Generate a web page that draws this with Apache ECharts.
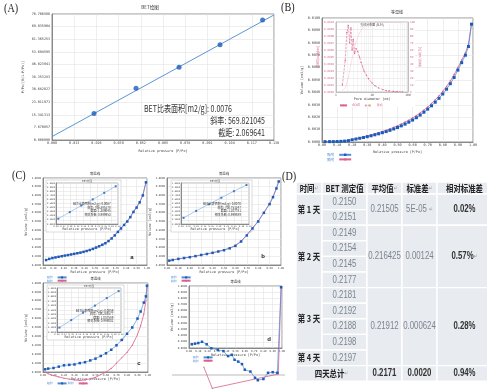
<!DOCTYPE html>
<html><head><meta charset="utf-8">
<script src="https://cdn.jsdelivr.net/npm/echarts@6.0.0/dist/echarts.min.js"></script>
<style>html,body{margin:0;padding:0;background:#fff;overflow:hidden}#c{width:487px;height:392px}</style>
</head><body><div id="c"></div>
<script>
// ================= DATA =================
// Panel A : BET plot
const aX = [0.0246, 0.0492, 0.0744, 0.0984, 0.1233];
const aY = [16.2, 31.5, 44.3, 58.0, 73.0];
const aFitX = [0, 0.13];
const aFitY = [2.069641, 76.147];
const aYLabels = ['0.000000','7.670657','15.341313','23.011971','30.682627','38.353283','46.023941','53.694595','61.365253','69.035904','76.706566'];
const aInfo = ['BET比表面积[m2/g]: 0.0076', '斜率: 569.821045', '截距: 2.069641'];

// Panel B : isotherm
const bX = [0.02,0.05,0.075,0.10,0.125,0.15,0.175,0.20,0.225,0.25,0.275,0.30,0.325,0.35,0.375,0.40,0.425,0.45,0.475,0.50,0.525,0.55,0.575,0.60,0.625,0.65,0.675,0.70,0.725,0.75,0.775,0.80,0.825,0.85,0.875,0.90,0.925,0.95,0.97,0.99];
const bAds = [0.00003,0.00003,0.00003,0.00004,0.00005,0.00007,0.00011,0.00018,0.00024,0.00030,0.00036,0.00043,0.00050,0.00058,0.00066,0.00075,0.00084,0.00094,0.00105,0.00117,0.00130,0.00144,0.00160,0.00177,0.00196,0.00217,0.00240,0.00265,0.00292,0.00321,0.00352,0.00387,0.00426,0.00470,0.00520,0.00580,0.00640,0.00700,0.00770,0.00950];
const bDes = [0.00003,0.00003,0.00004,0.00005,0.00006,0.00008,0.00013,0.00020,0.00027,0.00034,0.00041,0.00049,0.00057,0.00066,0.00075,0.00085,0.00095,0.00106,0.00118,0.00131,0.00145,0.00160,0.00176,0.00194,0.00213,0.00234,0.00257,0.00282,0.00310,0.00340,0.00372,0.00408,0.00448,0.00492,0.00543,0.00600,0.00660,0.00720,0.00790,0.00955];
// Panel B inset : pore size distribution
const poreD = [1.5,1.8,2.0,2.2,2.4,2.6,2.8,3.0,3.3,3.6,4.0,4.5,5.0,5.5,6,7,8,10,12,15,20,25,30,40,50,70];
const psd = [0.00010,0.00045,0.00085,0.00095,0.00070,0.00092,0.00060,0.00075,0.00055,0.00062,0.00058,0.00050,0.00042,0.00036,0.00030,0.00024,0.00019,0.00013,0.00009,0.00006,0.000035,0.00002,0.000015,0.000008,0.000005,0.000003];
const psdCum = [2,6,12,20,30,40,48,56,64,71,78,84,88,91,93,95.5,97,98.5,99,99.5,100,100,100,100,100,100];

// Panel C : four isotherms
const caX = [0.03,0.06,0.09,0.12,0.15,0.18,0.21,0.24,0.27,0.30,0.33,0.36,0.39,0.42,0.45,0.48,0.51,0.54,0.57,0.60,0.63,0.66,0.69,0.72,0.75,0.78,0.81,0.84,0.87,0.90,0.93,0.96,0.99];
const caAds = [0.057,0.070,0.080,0.087,0.094,0.101,0.108,0.114,0.121,0.128,0.135,0.142,0.151,0.161,0.172,0.185,0.200,0.215,0.232,0.250,0.275,0.305,0.340,0.380,0.420,0.460,0.500,0.550,0.610,0.660,0.720,0.800,0.950];
const caDes = [0.057,0.071,0.081,0.088,0.095,0.102,0.109,0.116,0.123,0.130,0.137,0.145,0.154,0.164,0.175,0.188,0.203,0.219,0.236,0.255,0.280,0.310,0.345,0.385,0.425,0.465,0.505,0.555,0.615,0.665,0.725,0.805,0.950];
const cbX = [0.02,0.05,0.10,0.15,0.20,0.25,0.30,0.35,0.40,0.45,0.50,0.55,0.60,0.65,0.70,0.75,0.80,0.85,0.90,0.93,0.96,0.98];
const cbAds = [0.050,0.058,0.070,0.080,0.090,0.102,0.115,0.127,0.140,0.155,0.170,0.192,0.220,0.270,0.340,0.420,0.500,0.600,0.700,0.780,0.880,0.960];
const cbDes = [0.050,0.059,0.071,0.081,0.091,0.103,0.116,0.128,0.142,0.157,0.173,0.196,0.225,0.275,0.345,0.425,0.505,0.605,0.705,0.785,0.885,0.960];
const ccX = [0.02,0.05,0.10,0.15,0.20,0.25,0.30,0.35,0.40,0.45,0.50,0.55,0.60,0.65,0.70,0.75,0.80,0.85,0.90,0.93,0.96,0.98,0.99];
const ccAds = [0.030,0.038,0.045,0.060,0.075,0.080,0.085,0.100,0.110,0.130,0.150,0.180,0.210,0.250,0.300,0.360,0.430,0.500,0.600,0.680,0.780,0.850,0.970];
const ccDes = [0.000,-0.020,-0.040,-0.055,-0.070,-0.080,-0.090,-0.095,-0.090,-0.075,-0.060,-0.030,0.000,0.040,0.100,0.160,0.220,0.300,0.420,0.520,0.650,0.800,0.950];
const cdX = [0.03,0.065,0.10,0.14,0.19,0.24,0.31,0.37,0.42,0.46,0.49,0.53,0.57,0.60,0.66,0.71,0.74,0.80,0.85,0.90,0.95,0.99];
const cdAds = [0.06,0.07,0.08,0.10,0.06,-0.005,-0.03,-0.05,-0.13,-0.11,-0.19,-0.22,-0.26,-0.35,-0.38,-0.48,-0.52,-0.50,-0.40,-0.39,-0.40,0.98];
const cdDesX = [0.16,0.25,0.96,0.99];
const cdDes = [-0.31,-0.65,-0.42,0.97];
// Panel C insets : BET linear fits
const cInsX = [0.05,0.10,0.15,0.20,0.25,0.30];
const caIns = [0.13,0.29,0.45,0.60,0.76,0.92];
const cbIns = [0.15,0.32,0.48,0.64,0.80,0.95];
const ccIns = [0.10,0.27,0.44,0.60,0.77,0.93];
const caInfo = ['BET比表面积[m2/g]: 0.0067','斜率: 706.385178','截距: 1.389045','相关系数: 0.999953'];
const cbInfo = ['BET比表面积[m2/g]: 0.0070','斜率: 700.751247','截距: 1.207781','相关系数: 0.999889'];
const ccInfo = ['BET比表面积[m2/g]: 0.0059','斜率: 738.208577','截距: 1.057589','相关系数: 0.998002'];

// Panel D : table
const tHeader = ['时间','BET 测定值','平均值','标准差','相对标准差'];
const tHeaderMark = [true, false, true, true, false];
const tDays = ['第 1 天','第 2 天','第 3 天','第 4 天'];
const tDaySpan = [2,4,4,1];
const tBet = ['0.2150','0.2151','0.2149','0.2154','0.2145','0.2177','0.2181','0.2192','0.2188','0.2198','0.2197'];
const tMean = ['0.21505','0.216425','0.21912'];
const tStd = ['5E-05','0.00124','0.000624'];
const tRsd = ['0.02%','0.57%','0.28%'];
const tGroupSpan = [2,4,5];
const tTotalLabel = '四天总计';
const tTotal = ['0.2171','0.0020','0.94%'];

// ================= STYLE / LAYOUT =================
const CJK = '"Noto Sans CJK SC", sans-serif';
const MONO = '"DejaVu Sans Mono", monospace';
const SANS = '"Liberation Sans", sans-serif';
const BLUE_L = '#4f8ed8', BLUE_M = '#1c5cb8', PINK = '#d8618f';
const zip = (xs, ys) => xs.map((x, i) => [x, ys[i]]);

const grids = [], xAxes = [], yAxes = [], series = [], graphics = [], legends = [];
function addGrid(g) {
  grids.push(Object.assign({show: true, backgroundColor: 'transparent', borderColor: '#666', borderWidth: 0.7, outerBoundsMode: 'none', containLabel: false}, g));
  return grids.length - 1;
}
function axis(gi, o, extraLabel) {
  return Object.assign({
    gridIndex: gi, type: 'value',
    axisLine: {show: true, onZero: false, lineStyle: {color: '#666', width: 0.7}},
    axisTick: {show: false},
    axisLabel: Object.assign({fontSize: 3.4, color: '#444', margin: 2, fontFamily: MONO, hideOverlap: false}, extraLabel || {}),
    splitLine: {show: true, lineStyle: {color: '#e2e2e2', width: 0.6}},
    nameLocation: 'middle',
    nameTextStyle: {fontSize: 3.4, color: '#444', fontFamily: MONO}
  }, o);
}
function T(text, x, y, o) {
  o = o || {};
  const st = {text: text, x: 0, y: 0, align: o.align || 'left', verticalAlign: o.va || 'middle',
      fontSize: o.size || 9, fontFamily: o.family || CJK, fontWeight: o.weight || 'normal', fill: o.color || '#222'};
  if (o.rich) st.rich = o.rich;
  return {type: 'text', x: x, y: y, scaleX: o.sx || 1, z: o.z || 50, style: st};
}
function R(x, y, w, h, o) {
  o = o || {};
  return {type: 'rect', z: o.z || 1, shape: {x: x, y: y, width: w, height: h},
    style: {fill: o.fill || '#fff', stroke: o.stroke || null, lineWidth: o.lw || 0}};
}

// ---------- Panel A ----------
{
  const g = addGrid({left: 52, top: 14, width: 222, height: 126});
  xAxes.push(axis(g, {min: 0, max: 0.13, interval: 0.013, name: 'Relative pressure [P/Po]', nameGap: 10}, {formatter: v => v.toFixed(3)}));
  yAxes.push(axis(g, {min: 0, max: 76.706566, interval: 7.6706566, name: 'P/Po/[V(1-P/Po)]', nameGap: 27}, {formatter: v => aYLabels[Math.round(v / 7.6706566)]}));
  const xi = xAxes.length - 1, yi = yAxes.length - 1;
  series.push({type: 'line', xAxisIndex: xi, yAxisIndex: yi, data: zip(aFitX, aFitY), symbol: 'none', lineStyle: {color: '#5d95d6', width: 1}, z: 2, silent: true});
  series.push({type: 'scatter', xAxisIndex: xi, yAxisIndex: yi, data: zip(aX, aY), symbol: 'circle', symbolSize: 5, itemStyle: {color: BLUE_M}, z: 3});
  graphics.push(T('BET绘图', 150, 7, {size: 4.5, align: 'center', color: '#333'}));
  graphics.push(T(aInfo[0], 144, 108, {size: 9.5, sx: 0.74, color: '#333', family: CJK}));
  graphics.push(T(aInfo[1], 265, 120, {size: 9.5, sx: 0.74, align: 'right', color: '#333'}));
  graphics.push(T(aInfo[2], 265, 132, {size: 9.5, sx: 0.74, align: 'right', color: '#333'}));
}

// ---------- Panel B ----------
{
  const g = addGrid({left: 322, top: 18, width: 151, height: 124});
  xAxes.push(axis(g, {min: 0, max: 1, interval: 0.1, name: 'Relative pressure [P/Po]', nameGap: 9}, {formatter: v => v.toFixed(2)}));
  yAxes.push(axis(g, {min: 0, max: 0.01, interval: 0.001, name: 'Volume [cm3/g]', nameGap: 16}, {formatter: v => v.toFixed(4)}));
  const xi = xAxes.length - 1, yi = yAxes.length - 1;
  series.push({name: '吸附', type: 'line', xAxisIndex: xi, yAxisIndex: yi, data: zip(bX, bAds), symbol: 'rect', symbolSize: 3, lineStyle: {color: BLUE_L, width: 0.8}, itemStyle: {color: BLUE_M}, z: 3});
  series.push({name: '脱附', type: 'line', xAxisIndex: xi, yAxisIndex: yi, data: zip(bX, bDes), symbol: 'circle', symbolSize: 1.6, lineStyle: {color: PINK, width: 0.8}, itemStyle: {color: PINK}, z: 2});
  graphics.push(T('等温线', 397, 12, {size: 4, align: 'center', color: '#333'}));
  // inset background
  graphics.push(R(323, 19, 92, 88, {z: 1}));
  const gi = addGrid({left: 336, top: 22, width: 72, height: 70, z: 3, borderColor: '#aaa'});
  xAxes.push(axis(gi, {type: 'log', min: 1, max: 100, logBase: 10, z: 3, name: 'Pore diameter [nm]', nameGap: 5,
    axisLine: {show: true, onZero: false, lineStyle: {color: '#aaa', width: 0.6}},
    minorSplitLine: {show: true, lineStyle: {color: '#e8e8e8', width: 0.5}}, minorTick: {show: false, splitNumber: 9}}, {color: '#555', fontSize: 3}));
  yAxes.push(axis(gi, {min: 0, max: 0.001, interval: 0.0001, z: 3, name: 'dV/dD [cm3/g/nm]', nameGap: 12, nameTextStyle: {fontSize: 2.6, color: PINK},
    axisLine: {show: true, onZero: false, lineStyle: {color: '#aaa', width: 0.6}}}, {formatter: v => v.toFixed(4), color: PINK, fontSize: 2.8}));
  yAxes.push(axis(gi, {min: 0, max: 100, interval: 10, position: 'right', z: 3, splitLine: {show: false}, name: '累积孔体积 [%]', nameGap: 9, nameTextStyle: {fontSize: 2.6, color: PINK},
    axisLine: {show: true, onZero: false, lineStyle: {color: '#aaa', width: 0.6}}}, {color: PINK, fontSize: 2.8}));
  const ixi = xAxes.length - 1;
  series.push({name: 'dV/dD', type: 'line', xAxisIndex: ixi, yAxisIndex: yAxes.length - 2, data: zip(poreD, psd), symbol: 'circle', symbolSize: 1.3, lineStyle: {color: PINK, width: 0.6, type: 'dashed'}, itemStyle: {color: PINK}, z: 4});
  series.push({name: '累积', type: 'line', xAxisIndex: ixi, yAxisIndex: yAxes.length - 1, data: zip(poreD, psdCum), symbol: 'none', lineStyle: {color: '#ef9ab8', width: 0.6, type: 'dotted'}, z: 4});
  graphics.push(T('孔径分布图 (BJH)', 372, 24.5, {size: 3, align: 'center', color: '#555', z: 60}));
  legends.push({data: ['吸附', '脱附'], left: 322, top: 148, orient: 'vertical', itemGap: 1, itemWidth: 12, itemHeight: 3, align: 'right',
    textStyle: {fontSize: 3.6, color: '#4f8ed8', fontFamily: CJK}});
  legends.push({data: ['dV/dD', '累积'], left: 334, top: 99, orient: 'horizontal', itemGap: 4, itemWidth: 7, itemHeight: 2, align: 'left',
    textStyle: {fontSize: 2.8, color: PINK, fontFamily: CJK}});
}

// ---------- Panel C ----------
function cPanel(box, ins, xs, ads, des, desX, insY, info, label, labelPos, legendPos, clipMain, title) {
  const g = addGrid(box);
  xAxes.push(axis(g, {min: 0, max: 1, interval: 0.1, name: 'Relative pressure [P/Po]', nameGap: 6}, {formatter: v => v.toFixed(2), fontSize: 2.6}));
  yAxes.push(axis(g, {min: 0, max: 1, interval: 0.1, name: 'Volume [cm3/g]', nameGap: 13}, {formatter: v => v.toFixed(4), fontSize: 2.6}));
  const xi = xAxes.length - 1, yi = yAxes.length - 1;
  series.push({name: '吸附', type: 'line', xAxisIndex: xi, yAxisIndex: yi, data: zip(xs, ads), clip: clipMain, symbol: 'rect', symbolSize: 2.5, lineStyle: {color: BLUE_L, width: 0.7}, itemStyle: {color: BLUE_M}, z: 3});
  series.push({name: '脱附', type: 'line', xAxisIndex: xi, yAxisIndex: yi, data: zip(desX || xs, des), clip: clipMain, connectNulls: false, symbol: 'circle', symbolSize: 1.2, lineStyle: {color: PINK, width: 0.8}, itemStyle: {color: PINK}, z: 2});
  graphics.push(T(title, box.left + box.width / 2, box.top - 4, {size: 3.4, align: 'center', color: '#333'}));
  if (ins) {
    graphics.push(R(ins.left - 10, ins.top - 3, ins.width + 13, ins.height + 11, {z: 1, stroke: '#bbb', lw: 0.5}));
    const gi = addGrid(Object.assign({z: 3, borderColor: '#999'}, ins));
    xAxes.push(axis(gi, {min: 0.04, max: 0.31, interval: 0.03, z: 3, name: 'Relative pressure [P/Po]', nameGap: 4}, {formatter: v => v.toFixed(2), fontSize: 2.2, margin: 1}));
    yAxes.push(axis(gi, {min: 0, max: 1, interval: 0.1, z: 3}, {formatter: v => v.toFixed(4), fontSize: 2.2, margin: 1}));
    series.push({type: 'line', xAxisIndex: xAxes.length - 1, yAxisIndex: yAxes.length - 1, data: zip(cInsX, insY), symbol: 'rect', symbolSize: 2, lineStyle: {color: '#8ab4e6', width: 0.7}, itemStyle: {color: '#3d78c8'}, z: 4});
    graphics.push(T('BET绘图', ins.left + ins.width / 2, ins.top - 1.5, {size: 2.6, align: 'center', color: '#555', z: 60}));
    const tx = ins.left + ins.width * 0.88, ty = ins.top + ins.height * 0.52;
    info.forEach((s, k) => graphics.push(T(s, tx, ty + k * 3.4, {size: 3, align: 'right', color: '#333', z: 60})));
  }
  graphics.push(T(label, labelPos[0], labelPos[1], {size: 6, align: 'center', color: '#222', family: SANS, weight: 'bold'}));
  legends.push({data: ['吸附', '脱附'], left: legendPos[0], top: legendPos[1], orient: 'vertical', itemGap: 0.5, itemWidth: 9, itemHeight: 2.5, align: 'right',
    textStyle: {fontSize: 2.8, color: '#4f8ed8', fontFamily: CJK}});
}
cPanel({left: 43, top: 178, width: 104, height: 87}, {left: 56, top: 183, width: 62, height: 41}, caX, caAds, caDes, null, caIns, caInfo, 'a', [132, 257], [42, 271], true, '等温线');
cPanel({left: 167, top: 178, width: 114, height: 87}, {left: 181, top: 183, width: 68, height: 41}, cbX, cbAds, cbDes, null, cbIns, cbInfo, 'b', [263, 256], [166, 271], true, '等温线');
cPanel({left: 43, top: 283, width: 105, height: 89}, {left: 57, top: 288, width: 64, height: 44}, ccX, ccAds, ccDes, null, ccIns, ccInfo, 'c', [139, 363], [42, 377], false, '等温线');
cPanel({left: 189, top: 286, width: 93, height: 62}, null, cdX, cdAds, cdDes, cdDesX, null, null, 'd', [269, 339], [188, 351], false, '等温线');
graphics.push({type: 'line', z: 1, shape: {x1: 172, y1: 375, x2: 285, y2: 375}, style: {stroke: '#bbb', lineWidth: 1}});

// ---------- Panel labels ----------
const SERIF = '"Liberation Serif", "DejaVu Serif", serif';
graphics.push(T('(A)', 4, 9, {size: 12, sx: 0.85, family: SERIF, color: '#222'}));
graphics.push(T('(B)', 281, 8, {size: 12, sx: 0.85, family: SERIF, color: '#222'}));
graphics.push(T('(C)', 12, 176, {size: 12, sx: 0.85, family: SERIF, color: '#222'}));
graphics.push(T('(D)', 282, 177, {size: 12, sx: 0.85, family: SERIF, color: '#222'}));

// ---------- Panel D : table ----------
{
  const cx = [296, 322, 367, 402, 437, 492];
  const top = 182, hH = 12, rH = 15.6;
  const CELL = '#e8ebef', SEP = '#ffffff';
  const MARK = {m: {fontSize: 6, fill: '#9aa0a8', fontFamily: '"DejaVu Sans", sans-serif'}};
  const rowY = i => top + hH + rH * i;
  const cell = (c0, c1, y0, y1) => graphics.push(R(cx[c0], y0, cx[c1] - cx[c0], y1 - y0, {fill: CELL, stroke: SEP, lw: 1.4, z: 5}));
  const txt = (s, c0, c1, y0, y1, o) => graphics.push(T(s, (cx[c0] + cx[c1]) / 2, (y0 + y1) / 2, Object.assign({align: 'center', size: 9.5, sx: 0.78, z: 10, rich: MARK}, o)));
  // header
  tHeader.forEach((h, k) => { cell(k, k + 1, top, top + hH); txt(h + (tHeaderMark[k] ? '{m|↵}' : ''), k, k + 1, top, top + hH, {color: '#222', weight: 'bold'}); });
  // day column
  let r = 0;
  tDays.forEach((d, k) => { cell(0, 1, rowY(r), rowY(r + tDaySpan[k])); txt(d, 0, 1, rowY(r), rowY(r + tDaySpan[k]), {color: '#222', weight: 'bold'}); r += tDaySpan[k]; });
  // BET values
  tBet.forEach((v, k) => { cell(1, 2, rowY(k), rowY(k + 1)); txt(v, 1, 2, rowY(k), rowY(k + 1), {color: '#7d8590', family: SANS, size: 10}); });
  // grouped stats
  r = 0;
  tGroupSpan.forEach((s, k) => {
    const y0 = rowY(r), y1 = rowY(r + s);
    cell(2, 3, y0, y1); txt(tMean[k], 2, 3, y0, y1, {color: '#7d8590', family: SANS, size: 10});
    cell(3, 4, y0, y1); txt(tStd[k] + (k === 0 ? ' {m|↵}' : ''), 3, 4, y0, y1, {color: '#7d8590', family: SANS, size: 10});
    cell(4, 5, y0, y1); txt(tRsd[k] + (k === 1 ? '{m|↵}' : ''), 4, 5, y0, y1, {color: '#333', family: SANS, size: 10, weight: 'bold'});
    r += s;
  });
  // total row
  const y0 = rowY(11), y1 = rowY(11) + rH;
  cell(0, 2, y0, y1); txt(tTotalLabel + '{m|↵}', 0, 2, y0, y1, {color: '#222', weight: 'bold'});
  tTotal.forEach((v, k) => { cell(k + 2, k + 3, y0, y1); txt(v, k + 2, k + 3, y0, y1, {color: '#333', family: SANS, size: 10, weight: 'bold'}); });
}

const chart = echarts.init(document.getElementById('c'), null, {renderer: 'canvas', width: 487, height: 392});
chart.setOption({
  animation: false,
  backgroundColor: '#fff',
  grid: grids, xAxis: xAxes, yAxis: yAxes, series: series,
  legend: legends,
  graphic: {elements: graphics}
});
</script></body></html>
